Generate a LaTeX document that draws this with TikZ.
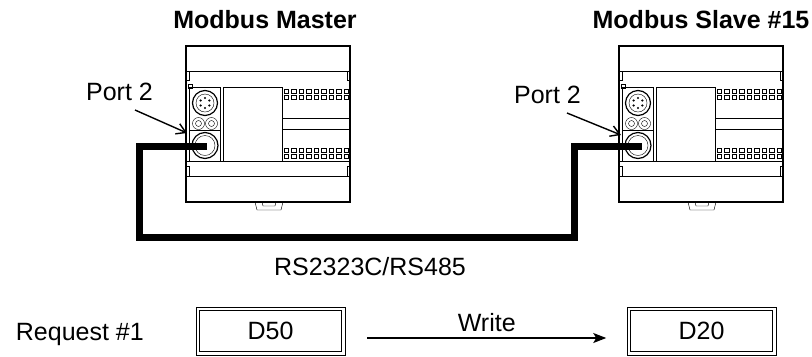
\documentclass[tikz,border=0pt]{standalone}
\usepackage{fontspec}
\setmainfont{Liberation Sans}
\usetikzlibrary{arrows.meta,calc}

\begin{document}
\begin{tikzpicture}[x=1bp, y=-1bp,
    lbl/.style={font=\fontsize{25bp}{30bp}\selectfont, inner sep=0pt},
    title/.style={lbl, font=\fontsize{25bp}{30bp}\selectfont\bfseries},
    cable/.style={line width=7bp, line join=miter},
    pointer/.style={line width=1.4bp, -{Straight Barb[length=9bp, width=11bp]}},
    regbox/.style={lbl, draw, double, double distance=2.5bp, line width=1bp, minimum width=145.5bp, minimum height=44.5bp},
    flow/.style={line width=1.3bp, -{Stealth[length=13bp, width=10bp, inset=3bp]}}]
    \useasboundingbox (0,0) rectangle (812,356);

    % PLC housings (master, then slave)
    \foreach \dx in {0,433}{
    \begin{scope}[shift={(\dx,0)}]
        \draw[line width=1.5bp] (186,46) rectangle (350,202);
        \draw[line width=0.8bp] (186,71) -- (350,71) (186,176) -- (350,176) (186,161) -- (350,161);
        \draw (186,71) rectangle (189,80) (186,166) rectangle (189,176);
        \draw (347,71) rectangle (350,80) (347,166) rectangle (350,176);
        % port column and display panel
        \draw (189,87) rectangle (220,161);
        \draw (223,87) rectangle (282,161);
        \draw (189,130) -- (220,130);
        \draw (188,84) rectangle (192,88);
        % upper port
        \draw[line width=1.2bp] (205,103) circle (12.5bp);
        \draw (205,103) circle (9bp);
        \foreach \a in {30,90,150,210,270,330}
            \fill (205,103) ++(\a:5bp) circle (1.2bp);
        \draw (198.5,123.5) circle (6bp) (211.5,123.5) circle (6bp);
        \draw (198.5,123.5) circle (3bp) (211.5,123.5) circle (3bp);
        % lower port
        \draw[line width=1.2bp] (205,145.5) circle (13bp);
        \draw (205,145.5) circle (10bp);
        % bar and indicator dots
        \draw (282,118) rectangle (350,129);
        \foreach \i in {0,...,8}
            \foreach \y in {91,97,150,156}
                \draw[line width=0.5bp] (284+7.5*\i,\y-2) rectangle ++(4.5,4.5);
        % foot tab
        \draw (255,202) -- (257,210) -- (281,210) -- (283,202);
        \draw (262,202) -- (263,206) -- (275,206) -- (276,202);
    \end{scope}
    }

    % Titles
    \node[title, anchor=base] (mtitle) at (265,28) {Modbus Master};
    \node[title, anchor=base] (stitle) at (701,28) {Modbus Slave \#15};

    % Port 2 pointers
    \node[lbl, anchor=base east] (mlabel) at (153,100) {Port 2};
    \node[lbl, anchor=base east] (slabel) at (581,103) {Port 2};
    \coordinate (mtail) at (135,110);
    \coordinate (mtip) at (187,133);
    \coordinate (stail) at (567,113);
    \coordinate (stip) at (621,135);
    \draw[pointer] (mtail) -- (mtip);
    \draw[pointer] (stail) -- (stip);

    % Cable
    \coordinate (mport) at (207,146);
    \coordinate (sport) at (642,146);
    \draw[cable] (mport) -- ++(-68,0) |- ++(435,91) |- (sport);
    \node[lbl, anchor=base] (bus) at (370,275) {RS2323C/RS485};

    % Request
    \node[lbl, anchor=base east] (req) at (144,340) {Request \#1};
    \node[regbox] (dfifty) at (270.5,331) {D50};
    \node[regbox] (dtwenty) at (701.5,331) {D20};
    \draw[flow] ([xshift=23.5bp, yshift=-7bp]dfifty.east) -- ([xshift=-22bp, yshift=-7bp]dtwenty.west)
        node[lbl, midway, anchor=base, yshift=7bp] (write) {Write};
\end{tikzpicture}
\end{document}
